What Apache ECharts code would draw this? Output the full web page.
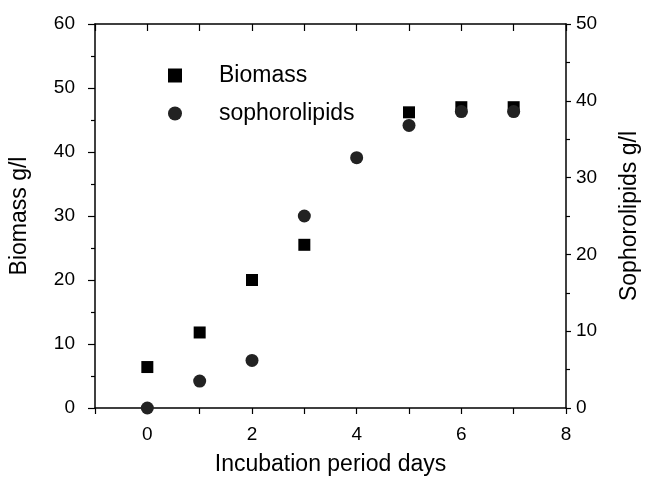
<!DOCTYPE html>
<html>
<head>
<meta charset="utf-8">
<script src="https://cdn.jsdelivr.net/npm/echarts@6/dist/echarts.min.js"></script>
<style>html,body{margin:0;padding:0;background:#fff}#c{width:648px;height:479px}</style>
</head>
<body>
<div id="c"></div>
<script>
const days = [0, 1, 2, 3, 4, 5, 6, 7];
const biomassDays = [0, 1, 2, 3, 5, 6, 7];
const biomass = [6.4, 11.8, 20.0, 25.5, 46.2, 47.0, 47.0];
const sophoDays = [0, 1, 2, 3, 4, 5, 6, 7];
const sophorolipids = [0, 3.5, 6.2, 25.0, 32.6, 36.8, 38.6, 38.6];
const seriesNames = ['Biomass', 'sophorolipids'];

const FONT = 'Liberation Sans, Arial, sans-serif';
const chart = echarts.init(document.getElementById('c'));
const axisLine = {show: true, onZero: false, lineStyle: {color: '#000', width: 1.5}};
chart.setOption({
  animation: false,
  backgroundColor: '#fff',
  grid: {left: 95, right: 82, top: 24, bottom: 71, containLabel: false, outerBoundsMode: 'none'},
  legend: {
    orient: 'vertical', left: 168, top: 64, itemGap: 15, padding: 0,
    itemWidth: 14, itemHeight: 14,
    textStyle: {fontFamily: FONT, fontSize: 23, color: '#000', padding: [0, 0, 0, 32]},
    data: [{name: seriesNames[0], icon: 'rect'}, {name: seriesNames[1], icon: 'circle'}]
  },
  xAxis: [{
    type: 'value', min: -1, max: 8, interval: 1, position: 'bottom',
    name: 'Incubation period days', nameLocation: 'middle', nameGap: 45,
    nameTextStyle: {fontFamily: FONT, fontSize: 23, color: '#000'},
    axisLine: axisLine,
    axisTick: {show: true, inside: false, length: 6, lineStyle: {color: '#000', width: 1.2}},
    axisLabel: {fontFamily: FONT, fontSize: 19, color: '#000', margin: 17,
      formatter: v => (v % 2 === 0 && v >= 0) ? String(v) : ''},
    splitLine: {show: false}
  }, {
    type: 'value', min: -1, max: 8, interval: 1, position: 'top',
    axisLine: axisLine,
    axisTick: {show: true, inside: true, length: 7, lineStyle: {color: '#000', width: 1.2}},
    axisLabel: {show: false}, splitLine: {show: false}
  }],
  yAxis: [{
    type: 'value', min: 0, max: 60, interval: 10, position: 'left',
    name: 'Biomass g/l', nameLocation: 'middle', nameGap: 64, nameRotate: 90,
    nameTextStyle: {fontFamily: FONT, fontSize: 23, color: '#000'},
    axisLine: axisLine,
    axisTick: {show: true, inside: false, length: 7, lineStyle: {color: '#000', width: 1.2}},
    minorTick: {show: true, splitNumber: 2, length: 4, lineStyle: {color: '#000', width: 1.2}},
    axisLabel: {fontFamily: FONT, fontSize: 19, color: '#000', margin: 20},
    splitLine: {show: false}
  }, {
    type: 'value', min: 0, max: 50, interval: 10, position: 'right',
    name: 'Sophorolipids g/l', nameLocation: 'middle', nameGap: 52, nameRotate: 90,
    nameTextStyle: {fontFamily: FONT, fontSize: 23, color: '#000'},
    axisLine: axisLine,
    axisTick: {show: true, inside: false, length: 5, lineStyle: {color: '#000', width: 1.2}},
    minorTick: {show: true, splitNumber: 2, length: 4, lineStyle: {color: '#000', width: 1.2}},
    axisLabel: {fontFamily: FONT, fontSize: 19, color: '#000', margin: 10},
    splitLine: {show: false}
  }],
  series: [{
    name: seriesNames[0], type: 'scatter', xAxisIndex: 0, yAxisIndex: 0,
    symbol: 'rect', symbolSize: 12, z: 2,
    itemStyle: {color: '#000', opacity: 1},
    data: biomassDays.map((d, i) => [d, biomass[i]])
  }, {
    name: seriesNames[1], type: 'scatter', xAxisIndex: 0, yAxisIndex: 1,
    symbol: 'circle', symbolSize: 13, z: 3,
    itemStyle: {color: '#222', opacity: 1},
    data: sophoDays.map((d, i) => [d, sophorolipids[i]])
  }]
});
</script>
</body>
</html>
